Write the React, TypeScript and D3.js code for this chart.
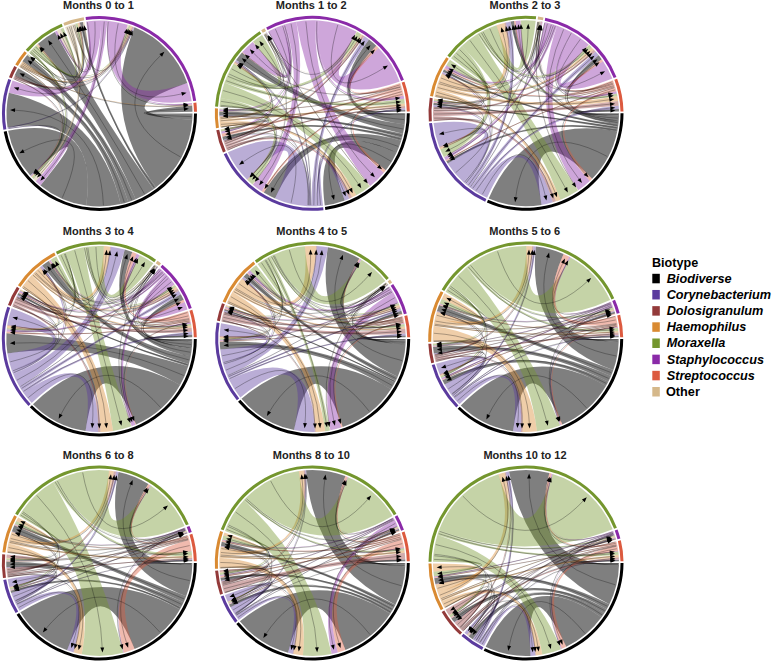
import * as d3 from 'd3'

// circle order, clockwise from 3 o'clock
const biotypes = ['Biodiverse', 'Corynebacterium', 'Dolosigranulum', 'Haemophilus', 'Moraxella', 'Other', 'Staphylococcus', 'Streptococcus']
const colors = ['#000000', '#5b3b9e', '#933a3a', '#d98a32', '#74962e', '#d5b88a', '#8a2aa8', '#dc5a3f']
const legendOrder = [0, 1, 2, 3, 4, 6, 7, 5]

// transitions, row = from, column = to, same order as biotypes
const m0to1 = [
    [32, 22, 5, 5, 13, 2, 50, 4],
    [.5, 0, 0, 0, 0, 0, .7, 0],
    [.5, 0, 0, 0, .5, .5, 1, 0],
    [.5, 0, 0, 0, 1, 1, 1, .5],
    [1.5, 0, 0, .5, 2, 1.5, 1, 0],
    [2, 0, 0, .3, 2.5, 1, 1, 0],
    [4, 8, 0, 0, 1.5, 0, 12, 1],
    [0, 0, 0, 0, 0, 0, 0, 0],
]
const m1to2 = [
    [13, 8, 2, 2.5, 6, 0, 6, 1],
    [3, 21, .5, .5, 1, .3, 3.5, 1],
    [2, .3, 0, .4, 1, 0, 1.5, 1.5],
    [3, .2, .3, 0, .8, 0, 1, 1.5],
    [10, 4, 1, .5, 7, .3, 3, 3],
    [.4, .4, 0, 0, .3, 0, .4, 0],
    [12, 7, 1.5, 1, 9, .2, 25, 2],
    [2, 1.5, 2, .3, .4, 0, 2, 0],
]
const m2to3 = [
    [33, 1.5, 1.5, 1.5, 2, .2, 3, 1.5],
    [7, 15, 1, 1, 3, .3, 3, 2],
    [2, .8, 0, .5, 1, 0, 1.5, 3],
    [3, 1, .5, 0, 5, .2, 2, 3],
    [12, 5, 1, 4, 9, .3, 2, 1.5],
    [.3, .3, 0, 0, .3, 0, .5, 0],
    [9, 2, .6, 2, 3, .5, 12, 1.5],
    [2, .8, .4, 1, 1, .3, 1.5, 0],
]
const m3to4 = [
    [38, 13, 1.5, 5, 5, .5, 4, 1.5],
    [8, 11, 1, 1.5, 9, .3, 2.5, 2],
    [1.5, .5, 0, .5, .5, 0, 1.5, 2.5],
    [8, 1.5, .5, 0, 4, .2, 1.5, 1.5],
    [12, .7, .5, 4, 10, .3, 1.5, 1],
    [.2, 0, 0, .3, .2, 0, .4, 0],
    [2.5, 1.5, 1, .7, 2, .3, 5, 1],
    [.5, 1, .7, .6, 3, 0, 1.5, 0],
]
const m4to5 = [
    [39, 5, 1, 3, 21, .3, 2, 1],
    [13, 8, .7, 1.2, 7, .2, 1.5, 1.3],
    [.6, .7, 0, .5, .5, 0, 1, 3],
    [6, 1, .8, 0, 7, .2, 1.5, 1.5],
    [3, .7, .5, 5, 20, .3, 1, 1.5],
    [.3, 0, 0, 0, .2, 0, .2, .2],
    [7, .7, .7, 2, .7, .2, 0, .5],
    [1, .5, .8, .7, .7, 0, .5, 0],
]
const m5to6 = [
    [37, 3, 4, 4, 18, 0, 1, .8],
    [5, 7, .6, .3, 1.5, 0, .5, .6],
    [1, .6, 0, .3, 1, 0, .5, 1.5],
    [9, .6, .3, 4, 3.5, 0, .5, 1],
    [15, 1.3, 1, 3, 37, 0, 1.5, 2],
    [0, 0, 0, 0, 0, 0, 0, 0],
    [.5, 1, .5, .5, .8, 0, 0, .5],
    [1, .6, .4, .6, 4, 0, .5, 0],
]
const m6to8 = [
    [38, 1.5, 3.5, 4, 20, 0, .4, .7],
    [4, 5, .5, .3, 1.5, 0, .3, .5],
    [.4, .4, 2, .3, 1.5, 0, .3, 1],
    [5, .4, .5, 2.5, 3, 0, .3, 1.5],
    [26, 1, 1, 2, 33, 0, .5, 2.5],
    [0, 0, 0, 0, 0, 0, 0, 0],
    [.4, .3, .3, .3, .4, 0, 0, .2],
    [7, .3, .5, .5, 1.5, 0, .2, 0],
]
const m8to10 = [
    [36.5, 2, 2, 2.5, 25, 0, 1, 1],
    [3, 4.5, .4, .3, .6, 0, .3, .3],
    [.5, .3, 1, .4, 1, 0, .5, 4],
    [6, .3, .5, 2, 3, 0, .3, 1.5],
    [18, .6, 1.5, 2.5, 37.5, 0, .6, 1.5],
    [0, 0, 0, 0, 0, 0, 0, 0],
    [4, .4, .6, .5, .3, 0, 0, .4],
    [5, .3, 1, 1, 1.5, 0, .5, 0],
]
const m10to12 = [
    [28.5, 3, 3, 3.5, 25, 0, .5, .7],
    [3, 2, .3, .2, 2, 0, .4, .3],
    [.3, .3, 4, .3, .8, 0, .3, 1.5],
    [4, .2, .3, 5, 4, 0, .5, 1.5],
    [12, .3, 1.5, 3, 52, 0, 1, 2],
    [0, 0, 0, 0, 0, 0, 0, 0],
    [.5, .4, .2, .6, .6, 0, 0, .3],
    [3, .2, .5, .5, 1.5, 0, .3, 0],
]

const panels = [
    { title: 'Months 0 to 1', cx: 99.5, cy: 113.5, matrix: m0to1 },
    { title: 'Months 1 to 2', cx: 312.3, cy: 113.3, matrix: m1to2 },
    { title: 'Months 2 to 3', cx: 526, cy: 113.3, matrix: m2to3 },
    { title: 'Months 3 to 4', cx: 99.3, cy: 339, matrix: m3to4 },
    { title: 'Months 4 to 5', cx: 312.7, cy: 339, matrix: m4to5 },
    { title: 'Months 5 to 6', cx: 525.7, cy: 339, matrix: m5to6 },
    { title: 'Months 6 to 8', cx: 99.3, cy: 563, matrix: m6to8 },
    { title: 'Months 8 to 10', cx: 312.3, cy: 563, matrix: m8to10 },
    { title: 'Months 10 to 12', cx: 526, cy: 563, matrix: m10to12 },
]

const outerR = 97.5
const ringW = 3
const ribbonR = 93
const tipR = 89.5
const gap = (1.1 * Math.PI) / 180

const ribbon = d3.ribbon<any, any>().radius(ribbonR)
const ring = d3.arc<any>().innerRadius(outerR - ringW).outerRadius(outerR)

const polar = (a: number, r: number) => [r * Math.sin(a), -r * Math.cos(a)]

// circlize style placing: each sector goes out first, then in, walking the other sectors counter clockwise
function layout(matrix: number[][]) {
    const n = matrix.length
    const totals = matrix.map((row, i) => d3.sum(row) + d3.sum(matrix, r => r[i]))
    const visible = totals.filter(t => t > 0).length
    const total = d3.sum(totals)
    const angle = d3.scaleLinear().domain([0, total]).range([0, 2 * Math.PI - visible * gap])

    const sectors: any[] = []
    const links: any = {}
    let used = 0
    let shown = 0
    for (let i = 0; i < n; i++) {
        if (totals[i] === 0) continue
        const offset = Math.PI / 2 + shown * gap
        const at = (v: number) => angle(v) + offset
        sectors.push({ i, startAngle: at(used) , endAngle: at(used + totals[i]) })
        const order = d3.range(1, n).map(k => (i - k + n) % n).concat(i)
        order.forEach(j => {
            const v = matrix[i][j]
            if (v > 0) {
                links[i + '-' + j] = { ...links[i + '-' + j], value: v, from: i, to: j, source: { startAngle: at(used), endAngle: at(used + v) } }
                used += v
            }
        })
        order.forEach(j => {
            const v = matrix[j][i]
            if (v > 0) {
                links[j + '-' + i] = { ...links[j + '-' + i], target: { startAngle: at(used), endAngle: at(used + v) } }
                used += v
            }
        })
        shown++
    }
    return { sectors, links: Object.values(links) as any[] }
}

function centerLine(d: any) {
    const a0 = (d.source.startAngle + d.source.endAngle) / 2
    const a1 = (d.target.startAngle + d.target.endAngle) / 2
    const [x0, y0] = polar(a0, ribbonR - 1)
    const [x1, y1] = polar(a1, tipR - 3)
    const p = d3.path()
    p.moveTo(x0, y0)
    p.quadraticCurveTo(0, 0, x1, y1)
    return p.toString()
}

function arrowHead(d: any) {
    const a = (d.target.startAngle + d.target.endAngle) / 2
    const [tx, ty] = polar(a, tipR)
    const [bx, by] = polar(a, tipR - 5)
    const nx = Math.cos(a) * 1.9
    const ny = Math.sin(a) * 1.9
    const p = d3.path()
    p.moveTo(tx, ty)
    p.lineTo(bx + nx, by + ny)
    p.lineTo(bx - nx, by - ny)
    p.closePath()
    return p.toString()
}

function Chord({ title, cx, cy, matrix }: any) {
    const { sectors, links } = layout(matrix)
    return (
        <g>
            <text x={cx - 1} y={cy - 104.5} textAnchor="middle" fontSize={11} fontWeight="bold" fill="#222">{title}</text>
            <g transform={`translate(${cx},${cy})`}>
                {links.map(d => (
                    <path key={d.from + '-' + d.to} d={ribbon(d) as any} fill={colors[d.from]} fillOpacity={d.from === 0 ? 0.5 : 0.42} />
                ))}
                {links.map(d => (
                    <path key={d.from + '-' + d.to} d={centerLine(d)} fill="none" stroke="#111" strokeOpacity={0.7} strokeWidth={0.45} />
                ))}
                {links.map(d => (
                    <path key={d.from + '-' + d.to} d={arrowHead(d)} fill="#000" />
                ))}
                {sectors.map(s => (
                    <path key={s.i} d={ring(s) as any} fill={colors[s.i]} />
                ))}
            </g>
        </g>
    )
}

function Legend() {
    const y = d3.scaleLinear().domain([0, 7]).range([278.3, 391.5])
    return (
        <g fontFamily="'Liberation Sans', Arial, sans-serif" fontWeight="bold" fill="#000">
            <text x={652} y={267} fontSize={12.6}>Biotype</text>
            {legendOrder.map((b, i) => (
                <g key={b}>
                    <rect x={652.3} y={y(i) - 4.5} width={7.5} height={9.5} fill={colors[b]} />
                    <text x={b === 5 ? 666 : 666.7} y={y(i) + 4.4} fontSize={12.7} fontStyle={b === 5 ? 'normal' : 'italic'}>{biotypes[b]}</text>
                </g>
            ))}
        </g>
    )
}

export default function App() {
    return (
        <svg width={773} height={663} style={{ position: 'absolute', left: 0, top: 0, background: '#fff' }} fontFamily="'Liberation Sans', Arial, sans-serif">
            {panels.map(p => <Chord key={p.title} {...p} />)}
            <Legend />
        </svg>
    )
}
